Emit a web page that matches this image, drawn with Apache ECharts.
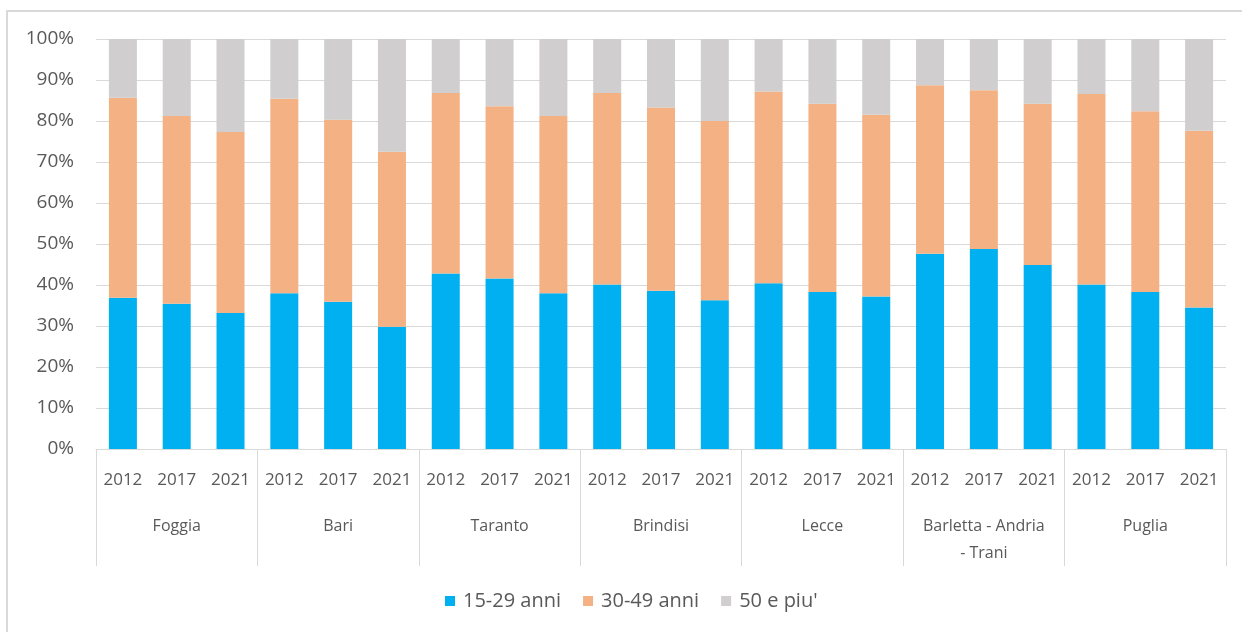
<!DOCTYPE html>
<html>
<head>
<meta charset="utf-8">
<script src="https://cdn.jsdelivr.net/npm/echarts@6/dist/echarts.min.js"></script>
<style>
  html, body { margin: 0; padding: 0; background: #fff; }
  #frame {
    position: absolute; left: 6px; top: 10px; width: 1236px; height: 622px;
    border-top: 2px solid #d9d9d9; border-left: 2px solid #d9d9d9;
  }
  #chart { position: absolute; left: 0; top: 0; width: 1242px; height: 632px; }
</style>
</head>
<body>
<div id="frame"></div>
<div id="chart"></div>
<script>
const years = ["2012", "2017", "2021"];
const provinces = ["Foggia", "Bari", "Taranto", "Brindisi", "Lecce", "Barletta - Andria\n- Trani", "Puglia"];
const yTicks = [0, 10, 20, 30, 40, 50, 60, 70, 80, 90, 100];

// share 15-29 (%), bar order = province x year
const young = [
  36.9, 35.4, 33.2,
  38.0, 35.9, 29.8,
  42.8, 41.6, 38.0,
  40.1, 38.6, 36.3,
  40.4, 38.3, 37.2,
  47.6, 48.8, 44.9,
  40.1, 38.3, 34.5
];
// share 30-49 (%)
const middle = [
  48.8, 45.8, 44.1,
  47.4, 44.4, 42.7,
  44.0, 42.0, 43.2,
  46.7, 44.7, 43.7,
  46.8, 45.9, 44.3,
  41.1, 38.7, 39.3,
  46.5, 44.1, 43.1
];
// share 50+ (%)
const older = [
  14.3, 18.8, 22.7,
  14.6, 19.7, 27.5,
  13.2, 16.4, 18.8,
  13.2, 16.7, 20.0,
  12.8, 15.8, 18.5,
  11.3, 12.5, 15.8,
  13.4, 17.6, 22.4
];
const seriesNames = ["15-29 anni", "30-49 anni", "50 e piu'"];
const seriesColors = ["#00B0F0", "#F4B183", "#D0CECE"];

const barCats = [];
provinces.forEach((p, i) => years.forEach(y => barCats.push(y + "|" + i)));

const FONT = "'Open Sans', sans-serif";
const TXT = "#595959";
const LINE = "#d9d9d9";

const chart = echarts.init(document.getElementById("chart"), null, { renderer: "canvas" });
chart.setOption({
  animation: false,
  textStyle: { fontFamily: FONT, color: TXT },
  grid: { left: 96, right: 16, top: 39, bottom: 183 },
  legend: {
    bottom: 16,
    left: 440,
    itemWidth: 10,
    itemHeight: 10,
    itemGap: 22,
    icon: "rect",
    textStyle: { fontFamily: FONT, fontSize: 20, color: TXT, padding: [0, 0, 0, 3] },
    data: seriesNames
  },
  xAxis: [
    {
      type: "category",
      data: barCats,
      axisLine: { show: true, lineStyle: { color: LINE, width: 1 } },
      axisTick: { show: false },
      axisLabel: {
        interval: 0, margin: 23, fontSize: 17, color: TXT, fontFamily: FONT,
        formatter: v => v.split("|")[0]
      }
    },
    {
      type: "category",
      position: "bottom",
      data: provinces,
      axisLine: { show: false },
      axisTick: { show: true, length: 117, lineStyle: { color: LINE, width: 1 } },
      axisLabel: { interval: 0, margin: 64, fontSize: 16, color: TXT, fontFamily: FONT, lineHeight: 27 }
    }
  ],
  yAxis: {
    type: "value",
    min: yTicks[0],
    max: yTicks[yTicks.length - 1],
    interval: 10,
    axisLine: { show: false },
    axisTick: { show: false },
    splitLine: { lineStyle: { color: LINE, width: 1 } },
    axisLabel: { margin: 22, fontSize: 19, color: TXT, fontFamily: FONT, formatter: "{value}%" }
  },
  series: [young, middle, older].map((d, i) => ({
    name: seriesNames[i],
    type: "bar",
    stack: "total",
    xAxisIndex: 0,
    barWidth: 28,
    itemStyle: { color: seriesColors[i] },
    data: d
  }))
});
</script>
</body>
</html>
